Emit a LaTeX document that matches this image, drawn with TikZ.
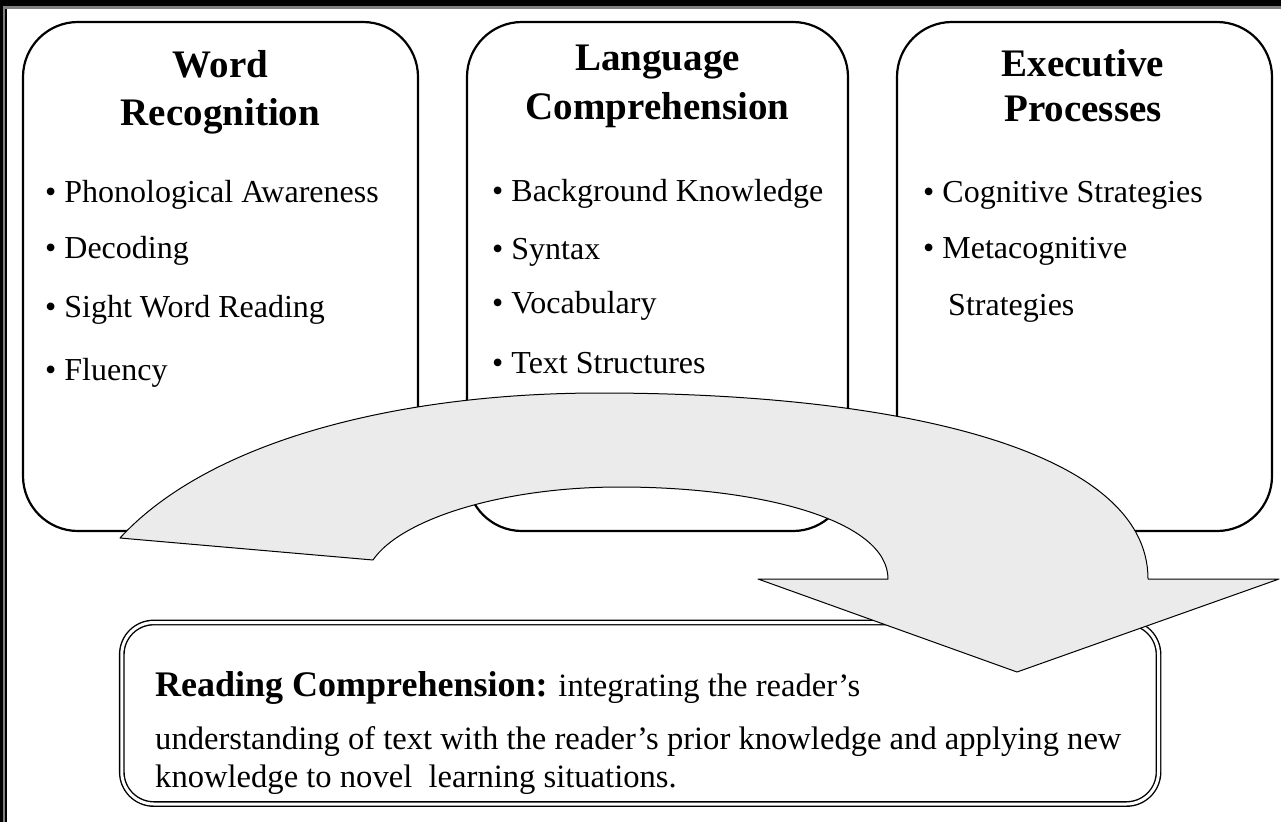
\documentclass[tikz,border=0pt]{standalone}
\usepackage{fontspec}
\setmainfont{Liberation Serif}
\definecolor{arrowgray}{RGB}{234,235,234}

\begin{document}
\begin{tikzpicture}[x=1pt,y=-1pt,
    stage/.style={draw, line width=2.2pt, rounded corners=55pt, inner sep=0pt},
    summary/.style={draw, line width=1.4pt, double, double distance=3pt, rounded corners=32pt, inner sep=0pt},
    heading/.style={anchor=base, inner sep=0pt, font=\fontsize{39}{47}\selectfont\bfseries},
    item/.style={anchor=base west, inner sep=0pt, font=\fontsize{32}{38}\selectfont},
    line/.style={anchor=base west, inner sep=0pt, font=\fontsize{32.6}{39}\selectfont}]
\useasboundingbox (0,0) rectangle (1281,822);
% frame
\fill (0,0) rectangle (1281,6);
\fill[gray] (0,6) rectangle (1281,8.5);
\fill (0,0) rectangle (2.5,822);
\fill[gray] (2.5,8.5) rectangle (5,822);
\fill (5,8.5) rectangle (6.5,822);
% the three boxes
\foreach \n/\x/\w in {wr/220.5/395, lc/657.5/381, ep/1084.5/375}
    \draw (\x, 276.5) node[stage, minimum width=\w pt, minimum height=509pt] (\n) {};
\foreach \n/\x/\y/\t in {wrA/220.5/77/Word, wrB/220.5/125/Recognition, lcA/657.5/70/Language,
        lcB/657.5/119/Comprehension, epA/1083/76/Executive, epB/1083/121/Processes}
    \draw (\x, \y) node[heading] (\n) {\t};
\foreach \n/\x/\y/\t in {pa/45/202/Phonological Awareness, de/45/258/Decoding,
        sw/45/317/Sight Word Reading, fl/45/380/Fluency,
        bk/492/201/Background Knowledge, sy/492/259/Syntax, vo/492/313/Vocabulary,
        ts/492/373/Text Structures, cs/923/202/Cognitive Strategies, mc/923/258/Metacognitive}
    \draw (\x, \y) node[item] (\n) {\textbullet\ \t};
\draw (948, 315) node[item] (mcB) {Strategies};
% bottom box
\draw (640.15, 713.25) node[summary, minimum width=1036.7pt, minimum height=181.5pt] (rc) {};
\draw (155, 696) node[line] (rcA) {{\fontsize{36}{43}\selectfont\bfseries Reading Comprehension:} integrating the reader's};
\draw (155, 749) node[line] (rcB) {understanding of text with the reader's prior knowledge and applying new};
\draw (155, 787) node[line] (rcC) {knowledge to novel\ \ learning situations.};
% curved arrow
\draw[fill=arrowgray, line width=1pt, line join=round]
    (120,538) .. controls (210,440) and (400,393) .. (600,393)
    .. controls (900,393) and (1148,450) .. (1148,579)
    -- (1279,579) -- (1017,672) -- (758,579) -- (888,579)
    .. controls (888,520) and (760,487) .. (620,487)
    .. controls (500,487) and (400,520) .. (373,560) -- cycle;
\end{tikzpicture}
\end{document}
